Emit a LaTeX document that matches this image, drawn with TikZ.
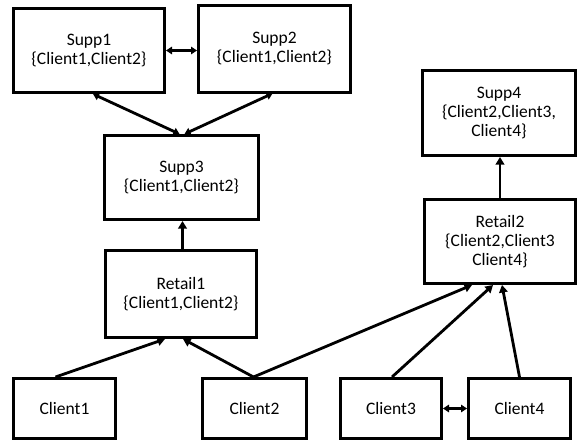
\documentclass[tikz,border=0pt]{standalone}
\usepackage{fontspec}
\setmainfont{Carlito}
\usetikzlibrary{arrows.meta}
\tikzset{
  box/.style={draw, line width=3pt, align=center, inner sep=0pt,
    font=\fontsize{17.5}{19}\selectfont},
  link/.style={line width=2.8pt, -{Triangle[length=7.5pt,width=8.5pt]}},
  twoway/.style={line width=2.8pt, {Triangle[length=6pt,width=7.5pt]}-{Triangle[length=6pt,width=7.5pt]}}
}
\begin{document}
\begin{tikzpicture}[x=1pt,y=-1pt]
  \useasboundingbox (0,0) rectangle (581,444);
  % suppliers
  \node[box, minimum width=151pt, minimum height=84pt] (supp1) at (89,50.5)
    {Supp1\\\{Client1,Client2\}};
  \node[box, minimum width=152pt, minimum height=86pt] (supp2) at (274.5,49)
    {Supp2\\\{Client1,Client2\}};
  \node[box, minimum width=154pt, minimum height=84pt] (supp3) at (181.5,177.5)
    {Supp3\\\{Client1,Client2\}};
  \node[box, minimum width=153pt, minimum height=85pt] (supp4) at (499,113)
    {Supp4\\\{Client2,Client3,\\Client4\}};
  % retailers
  \node[box, minimum width=151pt, minimum height=87pt] (retail1) at (181,294)
    {Retail1\\\{Client1,Client2\}};
  \node[box, minimum width=151pt, minimum height=84pt] (retail2) at (500,241.5)
    {Retail2\\\{Client2,Client3\\Client4\}};
  % clients
  \node[box, minimum width=102pt, minimum height=60pt] (client1) at (64.5,408.5) {Client1};
  \node[box, minimum width=104pt, minimum height=60pt] (client2) at (254.5,408.5) {Client2};
  \node[box, minimum width=101pt, minimum height=60pt] (client3) at (391,408.5) {Client3};
  \node[box, minimum width=102pt, minimum height=60pt] (client4) at (519.5,408.5) {Client4};

  % supplier links
  \draw[twoway] (supp1.east) -- (supp1.east -| supp2.west);
  \draw[twoway] ([xshift=4pt]supp1.south) -- ([xshift=-2pt]supp3.north);
  \draw[twoway] ([xshift=-2pt]supp2.south) -- ([xshift=3pt]supp3.north);
  \draw[link] ([xshift=1.5pt]retail1.north) -- ([xshift=1.5pt]retail1.north |- supp3.south);
  \draw[link] (retail2.north) -- (retail2.north |- supp4.south);
  % client links
  \draw[link] ([xshift=-9pt]client1.north) -- ([xshift=-16pt]retail1.south);
  \draw[link] ([xshift=-1pt]client2.north) -- ([xshift=2pt]retail1.south);
  \draw[link] ([xshift=-1pt]client2.north) -- ([xshift=-28pt]retail2.south);
  \draw[link] ([xshift=1pt]client3.north) -- ([xshift=-7pt]retail2.south);
  \draw[link] (client4.north) -- ([xshift=2pt]retail2.south);
  \draw[twoway] (client3.east) -- (client4.west);
\end{tikzpicture}
\end{document}
